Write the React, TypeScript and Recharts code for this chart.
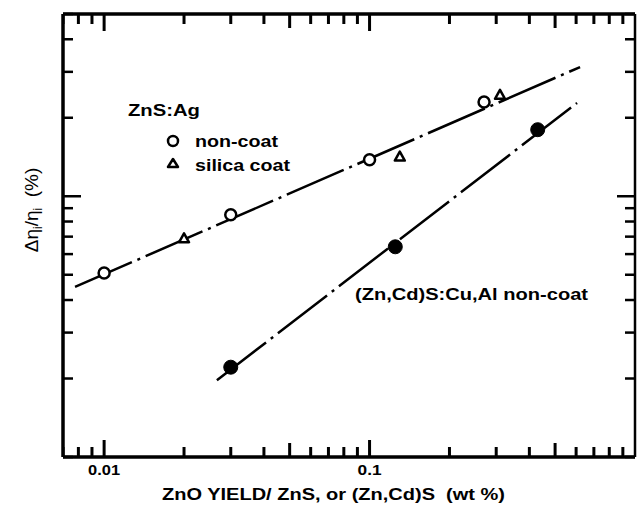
import React from "react"
import { ComposedChart, XAxis, YAxis, Line, Scatter } from "recharts"

// ZnS:Ag, non-coat (open circles)
const nonCoat = [
  { x: 0.01, y: 5.08 },
  { x: 0.03, y: 8.5 },
  { x: 0.1, y: 13.8 },
  { x: 0.27, y: 23.0 },
]

// ZnS:Ag, silica coat (open triangles)
const silicaCoat = [
  { x: 0.02, y: 6.9 },
  { x: 0.13, y: 14.2 },
  { x: 0.31, y: 24.5 },
]

// (Zn,Cd)S:Cu,Al non-coat (filled circles)
const zncdNonCoat = [
  { x: 0.03, y: 2.21 },
  { x: 0.125, y: 6.4 },
  { x: 0.43, y: 18.0 },
]

// fitted lines (end points)
const upperFit = [
  { x: 0.00777, y: 4.49 },
  { x: 0.621, y: 31.3 },
]
const lowerFit = [
  { x: 0.0266, y: 1.97 },
  { x: 0.605, y: 22.8 },
]

const xDomain = [0.007, 1]
const yDomain = [1, 50]
const xTicks = [0.007, 0.008, 0.009, 0.01, 0.02, 0.03, 0.04, 0.05, 0.06, 0.07, 0.08, 0.09, 0.1, 0.2, 0.3, 0.4, 0.5, 0.6, 0.7, 0.8, 0.9]
const xMajor = [0.01, 0.1]
const xMedium = [0.05, 0.5]
const xLabelTicks = [0.01, 0.1]

const yTicks = [1, 2, 3, 4, 5, 6, 7, 8, 9, 10, 20, 30, 40, 50]
const yMajor = [10]

const font = "'Liberation Sans', Arial, sans-serif"

function xLen(v: number) {
  return xMajor.includes(v) ? 17 : xMedium.includes(v) ? 14 : 10
}
function yLen(v: number) {
  return yMajor.includes(v) ? 18 : 10
}

// tick mark positions on the bottom and top frame edges
const bottomTickPts = xTicks.map((v) => ({ x: v, y: yDomain[0] }))
const topTickPts = xTicks.map((v) => ({ x: v, y: yDomain[1] }))

const BottomLabel = (props: any) => {
  const { x, y, payload } = props
  const label = String(payload.value)
  return (
    <text x={x} y={y + 18} textAnchor="middle" fontFamily={font} fontWeight="bold" fontSize={14}
      textLength={label.length * 8} lengthAdjust="spacingAndGlyphs" fill="#000">
      {label}
    </text>
  )
}

const LeftTick = (props: any) => {
  const { x, y, payload } = props
  return <line x1={x} y1={y} x2={x + yLen(payload.value)} y2={y} stroke="#000" strokeWidth={2.5} />
}

const RightTick = (props: any) => {
  const { x, y, payload } = props
  return <line x1={x} y1={y} x2={x - yLen(payload.value)} y2={y} stroke="#000" strokeWidth={2.5} />
}

const BottomMark = (p: any) => (
  <path d={`M${p.cx - 1.5},${p.cy} h3 v${-xLen(p.payload.x)} h-3 Z`} fill="#000" stroke="none" />
)
const TopMark = (p: any) => (
  <path d={`M${p.cx - 1.5},${p.cy} h3 v${xLen(p.payload.x)} h-3 Z`} fill="#000" stroke="none" />
)

const OpenCircle = (p: any) => <circle cx={p.cx} cy={p.cy} r={5.5} fill="#fff" stroke="#000" strokeWidth={2.5} />
const FilledCircle = (p: any) => <circle cx={p.cx} cy={p.cy} r={7} fill="#000" stroke="#000" strokeWidth={1} />
const Triangle = (p: any) => (
  <path
    d={`M${p.cx},${p.cy - 5} L${p.cx + 5},${p.cy + 4} L${p.cx - 5},${p.cy + 4} Z`}
    fill="#fff"
    stroke="#000"
    strokeWidth={2.5}
    strokeLinejoin="round"
  />
)

const axisLine = { stroke: "#000", strokeWidth: 3.5 }
const dash = "62 6 3 6"

const Ann = ({ x, y, w, children }: any) => (
  <text x={x} y={y} fontFamily={font} fontWeight="bold" fontSize={17}
    textLength={w} lengthAdjust="spacingAndGlyphs" fill="#000" style={{ whiteSpace: "pre" }}>
    {children}
  </text>
)

export default function App() {
  return (
    <div style={{ position: "absolute", left: 0, top: 0, width: 637, height: 506, background: "#fff" }}>
      <ComposedChart width={637} height={506} margin={{ top: 13, right: 1, bottom: 48, left: 62 }}>
        <XAxis
          xAxisId="bottom"
          dataKey="x"
          type="number"
          scale="log"
          domain={xDomain}
          allowDataOverflow
          ticks={xLabelTicks}
          interval={0}
          height={1}
          tickSize={0}
          tickMargin={0}
          axisLine={axisLine}
          tickLine={false}
          tick={<BottomLabel />}
        />
        <XAxis
          xAxisId="top"
          orientation="top"
          dataKey="x"
          type="number"
          scale="log"
          domain={xDomain}
          allowDataOverflow
          height={1}
          axisLine={axisLine}
          tickLine={false}
          tick={false}
        />
        <YAxis
          yAxisId="left"
          dataKey="y"
          type="number"
          scale="log"
          domain={yDomain}
          allowDataOverflow
          ticks={yTicks}
          interval={0}
          width={1}
          tickSize={0}
          tickMargin={0}
          axisLine={axisLine}
          tickLine={false}
          tick={<LeftTick />}
        />
        <YAxis
          yAxisId="right"
          orientation="right"
          dataKey="y"
          type="number"
          scale="log"
          domain={yDomain}
          allowDataOverflow
          ticks={yTicks}
          interval={0}
          width={1}
          tickSize={0}
          tickMargin={0}
          axisLine={{ stroke: "#000", strokeWidth: 2.5 }}
          tickLine={false}
          tick={<RightTick />}
        />

        <Scatter xAxisId="bottom" yAxisId="left" data={bottomTickPts} dataKey="y" shape={BottomMark} isAnimationActive={false} />
        <Scatter xAxisId="bottom" yAxisId="left" data={topTickPts} dataKey="y" shape={TopMark} isAnimationActive={false} />

        <Line
          xAxisId="bottom"
          yAxisId="left"
          data={upperFit}
          dataKey="y"
          stroke="#000"
          strokeWidth={2.5}
          strokeDasharray={dash}
          dot={false}
          isAnimationActive={false}
        />
        <Line
          xAxisId="bottom"
          yAxisId="left"
          data={lowerFit}
          dataKey="y"
          stroke="#000"
          strokeWidth={2.5}
          strokeDasharray={dash}
          dot={false}
          isAnimationActive={false}
        />
        <Scatter xAxisId="bottom" yAxisId="left" data={nonCoat} dataKey="y" shape={OpenCircle} isAnimationActive={false} />
        <Scatter xAxisId="bottom" yAxisId="left" data={silicaCoat} dataKey="y" shape={Triangle} isAnimationActive={false} />
        <Scatter xAxisId="bottom" yAxisId="left" data={zncdNonCoat} dataKey="y" shape={FilledCircle} isAnimationActive={false} />

        {/* legend and annotations */}
        <Ann x={128} y={116} w={72}>ZnS:Ag</Ann>
        <circle cx={173} cy={141} r={5} fill="#fff" stroke="#000" strokeWidth={2.5} />
        <Ann x={195} y={147} w={83}>non-coat</Ann>
        <path d="M173,159 L178,167 L168,167 Z" fill="#fff" stroke="#000" strokeWidth={2.5} strokeLinejoin="round" />
        <Ann x={195} y={171} w={95}>silica coat</Ann>
        <Ann x={355} y={300} w={233}>(Zn,Cd)S:Cu,Al non-coat</Ann>
        <Ann x={162} y={500} w={343}>{"ZnO YIELD/ ZnS, or (Zn,Cd)S  (wt %)"}</Ann>

        <text
          x={38}
          y={210}
          transform="rotate(-90 38 210)"
          textAnchor="middle"
          fontFamily={font}
          fontSize={19}
          fill="#000"
          style={{ whiteSpace: "pre" }}
        >
          Δη<tspan fontSize={12} dy={4}>i</tspan>
          <tspan dy={-4}>/η</tspan>
          <tspan fontSize={12} dy={4}>i</tspan>
          <tspan dy={-4}>{"  (%)"}</tspan>
        </text>
      </ComposedChart>
    </div>
  )
}
